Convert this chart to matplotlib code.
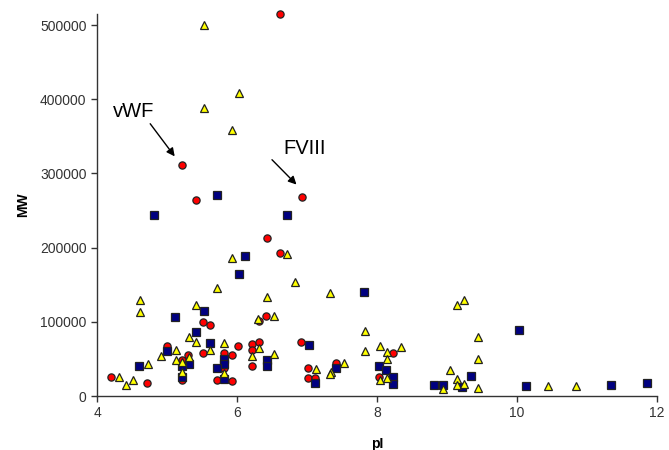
import matplotlib.pyplot as plt

plt.rcParams['font.family'] = ['Liberation Sans', 'DejaVu Sans']

# red circles
red_pi = [6.62, 5.22, 5.41, 6.93, 6.43, 6.62, 5.52, 5.62, 6.42, 6.31, 6.02, 6.21, 6.21, 6.21,
          6.31, 5.00, 5.30, 5.21, 5.22, 5.52, 4.20, 4.71, 5.82, 5.93, 5.81, 5.71, 5.93, 6.92,
          7.02, 7.02, 7.12, 7.42, 8.23, 8.03]
red_mw = [515000, 311000, 264000, 268000, 213000, 193000, 100000, 96000, 108000, 101000, 67000,
          70000, 62000, 40000, 73000, 68000, 55000, 49000, 22000, 58000, 25000, 17000, 58000,
          55000, 38000, 22000, 20000, 73000, 38000, 24000, 24000, 44000, 58000, 26000]

# blue squares
blue_pi = [5.71, 4.82, 6.71, 6.12, 6.03, 7.82, 5.53, 5.12, 5.41, 5.62, 5.00, 5.31, 5.22, 5.22,
           4.60, 5.82, 5.82, 5.71, 5.82, 7.03, 6.43, 6.43, 7.12, 7.42, 8.03, 8.13, 8.23, 8.23,
           10.03, 9.34, 8.82, 8.94, 9.22, 10.13, 11.34, 11.86]
blue_mw = [271000, 244000, 244000, 189000, 165000, 140000, 115000, 106000, 86000, 72000, 61000,
           43000, 40000, 25000, 41000, 50000, 43000, 38000, 23000, 69000, 48000, 40000, 17000,
           38000, 41000, 35000, 26000, 16000, 89000, 27000, 15000, 15000, 12000, 14000, 15000,
           17000]

# yellow triangles
yel_pi = [5.53, 6.03, 5.53, 5.93, 6.72, 5.93, 5.71, 6.43, 4.61, 6.83, 7.33, 9.24, 9.14, 4.61,
          5.41, 6.30, 5.32, 5.41, 5.82, 6.21, 5.13, 4.91, 5.13, 5.32, 5.22, 5.22, 5.62, 4.73,
          4.32, 4.51, 4.42, 5.82, 6.53, 6.31, 6.53, 7.13, 7.34, 7.33, 7.53, 7.83, 7.83, 8.04,
          8.14, 8.34, 8.14, 8.04, 8.15, 9.45, 9.45, 9.04, 9.14, 8.94, 9.14, 9.24, 9.45, 10.45,
          10.85]
yel_mw = [500000, 409000, 388000, 359000, 192000, 186000, 145000, 134000, 130000, 154000, 139000,
          130000, 123000, 113000, 122000, 104000, 80000, 73000, 72000, 54000, 62000, 54000,
          49000, 52000, 46000, 33000, 62000, 43000, 26000, 21000, 15000, 31000, 108000, 65000,
          57000, 36000, 33000, 29000, 44000, 87000, 61000, 67000, 59000, 66000, 50000, 22000,
          24000, 79000, 50000, 35000, 23000, 9000, 15000, 16000, 11000, 14000, 14000]

fig = plt.figure(figsize=(6.69, 4.5), dpi=100)
ax = fig.add_axes([0.145, 0.12, 0.837, 0.849])

ax.plot(red_pi, red_mw, 'o', ms=5.2, mfc='#ff0000', mec='#222222', mew=0.9, clip_on=False)
ax.plot(blue_pi, blue_mw, 's', ms=5.2, mfc='#000080', mec='#222222', mew=0.9, clip_on=False)
ax.plot(yel_pi, yel_mw, '^', ms=6.2, mfc='#ffff00', mec='#222222', mew=0.9, clip_on=False)

ax.set_xlim(4, 12)
ax.set_ylim(0, 515000)
ax.set_xticks([4, 6, 8, 10, 12])
ax.set_yticks([0, 100000, 200000, 300000, 400000, 500000])
ax.set_yticklabels(['0', '100000', '200000', '300000', '400000', '500000'])
ax.tick_params(labelsize=10, colors='#333333', length=4, width=1, direction='out')
for s in ['top', 'right']:
    ax.spines[s].set_visible(False)
for s in ['left', 'bottom']:
    ax.spines[s].set_color('#333333')
    ax.spines[s].set_linewidth(1)

ax.set_xlabel('pI', fontsize=10, fontweight='bold')
ax.set_ylabel('MW', fontsize=10, fontweight='bold')
ax.xaxis.set_label_coords(0.5, -0.107)
ax.yaxis.set_label_coords(-0.12, 0.5)

ap = dict(arrowstyle='-|>', color='black', lw=1, mutation_scale=12, shrinkA=0, shrinkB=0)
ax.text(4.53, 383000, 'vWF', fontsize=14.5, ha='center', va='center')
ax.annotate('', xy=(5.11, 323000), xytext=(4.76, 367000), arrowprops=ap)
ax.text(6.97, 334000, 'FVIII', fontsize=14.5, ha='center', va='center')
ax.annotate('', xy=(6.85, 285000), xytext=(6.50, 318500), arrowprops=ap)

plt.savefig('out.png', dpi=100)
